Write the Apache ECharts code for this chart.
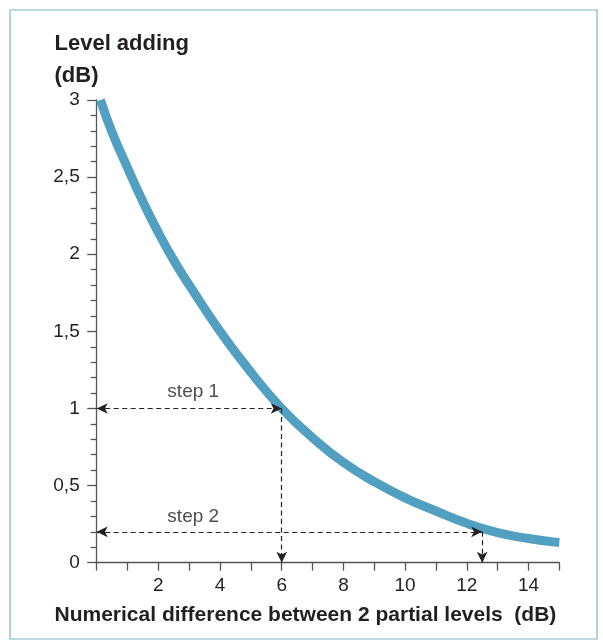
<!DOCTYPE html>
<html>
<head>
<meta charset="utf-8">
<script src="https://cdn.jsdelivr.net/npm/echarts@6/dist/echarts.min.js"></script>
<style>
  html, body { margin: 0; padding: 0; background: #fff; }
  #chart { width: 603px; height: 644px; }
</style>
</head>
<body>
<div id="chart"></div>
<script>
// Curve: level difference (dB) -> level to add (dB)
const curveX = [0.12, 0.5, 1, 1.5, 2, 2.5, 3, 4, 5, 6, 7, 8, 9, 10, 11, 12, 13, 14, 15];
const curveY = [3.0, 2.79, 2.56, 2.34, 2.14, 1.96, 1.8, 1.5, 1.235, 1.0, 0.81, 0.65, 0.525, 0.42, 0.335, 0.255, 0.195, 0.157, 0.13];

// Worked steps
const stepNames = ['step 1', 'step 2'];
const stepDifference = [6, 12.5];
const stepAdding = [1, 0.2];
const stepLabelX = [3.13, 3.13];
const stepLabelY = [1.11, 0.3];

// Tick labels
const xTickLabels = ['2', '4', '6', '8', '10', '12', '14'];
const yTickLabels = ['0', '0,5', '1', '1,5', '2', '2,5', '3'];

const FONT = '"Liberation Sans", Arial, Helvetica, sans-serif';
const TEXT = '#231f20';
const AXIS = '#555555';

const curveData = curveX.map((x, i) => [x, curveY[i]]);
const labelData = stepNames.map((n, i) => [stepLabelX[i], stepLabelY[i], n]);

const markLines = [];
stepNames.forEach((n, i) => {
  markLines.push([
    { coord: [0, stepAdding[i]], symbol: 'arrow' },
    { coord: [stepDifference[i], stepAdding[i]], symbol: 'arrow' }
  ]);
  markLines.push([
    { coord: [stepDifference[i], stepAdding[i]], symbol: 'none' },
    { coord: [stepDifference[i], 0], symbol: 'arrow' }
  ]);
});

const chart = echarts.init(document.getElementById('chart'), null, { renderer: 'canvas' });
chart.setOption({
  animation: false,
  backgroundColor: '#ffffff',
  textStyle: { fontFamily: FONT },
  title: [
    {
      text: 'Level adding\n(dB)',
      left: 54.5, top: 27.5, padding: 0,
      textStyle: { fontFamily: FONT, fontSize: 22, fontWeight: 'bold', color: TEXT, lineHeight: 32 }
    },
    {
      text: 'Numerical difference between 2 partial levels  (dB)',
      left: 54.5, top: 605, padding: 0,
      textStyle: { fontFamily: FONT, fontSize: 21, fontWeight: 'bold', color: TEXT, lineHeight: 21 }
    }
  ],
  graphic: [
    {
      type: 'rect', left: 7.5, top: 7.5, silent: true,
      shape: { x: 0, y: 0, width: 587, height: 629 },
      style: { fill: 'none', stroke: '#7ab4c6', lineWidth: 1.2 }
    }
  ],
  grid: { left: 96.7, right: 43.7, top: 100, bottom: 81.3, containLabel: false },
  xAxis: {
    type: 'value', min: 0, max: 15, interval: 1,
    axisLine: { show: true, lineStyle: { color: AXIS, width: 1.3 } },
    axisTick: { show: true, length: 8, lineStyle: { color: AXIS, width: 1.3 } },
    splitLine: { show: false },
    axisLabel: {
      margin: 14, fontSize: 19, color: TEXT, fontFamily: FONT,
      formatter: v => (xTickLabels.includes(String(v)) ? String(v) : '')
    }
  },
  yAxis: {
    type: 'value', min: 0, max: 3, interval: 0.5,
    axisLine: { show: true, lineStyle: { color: AXIS, width: 1.3 } },
    axisTick: { show: true, length: 9.5, lineStyle: { color: AXIS, width: 1.3 } },
    minorTick: { show: true, splitNumber: 5, length: 6, lineStyle: { color: AXIS, width: 1.3 } },
    splitLine: { show: false },
    minorSplitLine: { show: false },
    axisLabel: {
      margin: 17, fontSize: 19, color: TEXT, fontFamily: FONT,
      formatter: v => yTickLabels[Math.round(v / 0.5)] || ''
    }
  },
  series: [
    {
      type: 'line',
      data: curveData,
      showSymbol: false,
      smooth: 0.5,
      clip: false,
      z: 2,
      lineStyle: { color: '#519fc1', width: 9, cap: 'butt' }
    },
    {
      type: 'scatter',
      data: labelData,
      symbol: 'circle',
      symbolSize: 1,
      z: 5,
      itemStyle: { color: 'rgba(0,0,0,0)' },
      label: {
        show: true, position: 'inside',
        formatter: p => p.data[2],
        fontSize: 19, color: '#222222', fontFamily: FONT,
        textBorderWidth: 0
      },
      markLine: {
        silent: true,
        symbolSize: [8, 11],
        label: { show: false },
        lineStyle: { color: '#222222', width: 1.2, type: [5, 3.5] },
        emphasis: { disabled: true },
        data: markLines
      }
    }
  ]
});
</script>
</body>
</html>
